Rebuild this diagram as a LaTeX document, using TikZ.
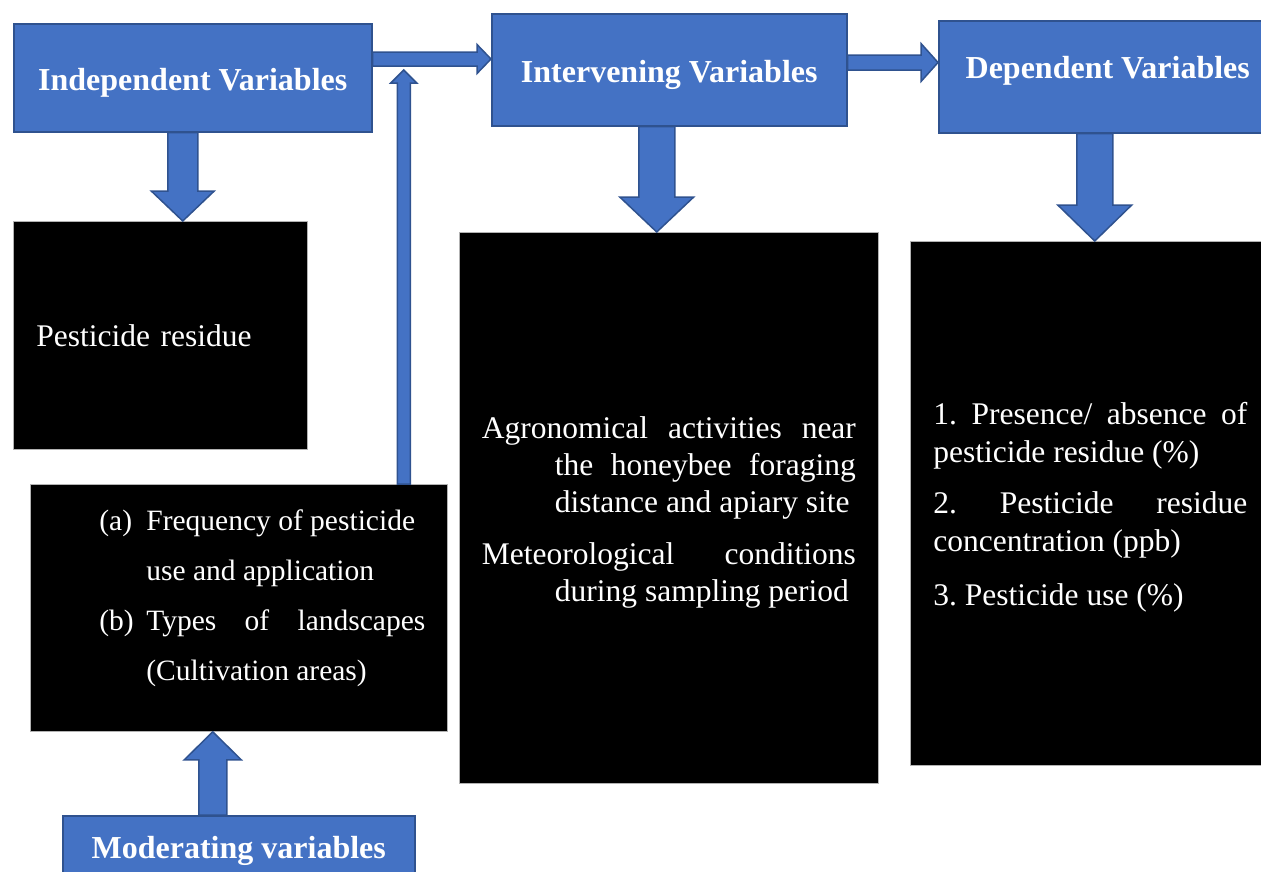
\documentclass[tikz,border=0pt]{standalone}
\usepackage{fontspec}
\setmainfont{Liberation Serif}
\usetikzlibrary{calc,positioning}
\definecolor{boxblue}{HTML}{4472C4}
\definecolor{edgeblue}{HTML}{2F528F}
\tikzset{
  titlebox/.style={draw=edgeblue,line width=1.5pt,fill=boxblue,text=white,inner sep=0pt,anchor=north west,
    font=\fontsize{32}{38}\selectfont\bfseries,text height=26pt,text depth=0pt},
  darkbox/.style={draw=gray!60,line width=0.8pt,fill=black,text=white,inner sep=0pt,anchor=north west,
    align=left,font=\fontsize{31.5}{37}\selectfont\frenchspacing},
  blockarr/.style={draw=edgeblue,line width=1.5pt,fill=boxblue,line join=miter}
}
% block arrow: from, to, half shaft, half head, head length
\newcommand{\blockarrow}[5]{%
  \coordinate (ba-h) at ($(#2)!#5!(#1)$);
  \draw[blockarr] ($(#1)!#3!90:(#2)$) -- ($(ba-h)!#3!90:(#2)$) -- ($(ba-h)!#4!90:(#2)$) -- (#2)
    -- ($(ba-h)!#4!-90:(#2)$) -- ($(ba-h)!#3!-90:(#2)$) -- ($(#1)!#3!-90:(#2)$) -- cycle;}
\begin{document}
\begin{tikzpicture}[x=1pt,y=-1pt]
        \useasboundingbox (0,0) rectangle (1261,871);
        %blue headings
        \node[titlebox,minimum width=358pt,minimum height=108pt] (indep) at (13,23) {Independent Variables};
        \node[titlebox,minimum width=355pt,minimum height=112pt] (interv) at (491,13) {Intervening Variables};
        \node[titlebox,minimum width=338pt,minimum height=112pt,text height=22pt,text depth=18pt] (dep) at (938,20) {Dependent Variables};
        \node[titlebox,minimum width=352pt,minimum height=70pt,text height=22pt,text depth=6pt] (modvar) at (62,815) {Moderating variables};
        %black boxes
        \node[darkbox,minimum width=294pt,minimum height=228pt,text width=248pt] (resid) at (13,221) {Pesticide residue};
        \node[darkbox,minimum width=417pt,minimum height=247pt,font=\fontsize{29.5}{50}\selectfont] (factors) at (30,484)
          {\hspace*{47pt}\makebox[47pt][l]{(a)}Frequency of pesticide\\
           \hspace*{94pt}use and application\\
           \hspace*{47pt}\makebox[47pt][l]{(b)}\makebox[279pt]{Types\hfill of\hfill landscapes}\\
           \hspace*{94pt}(Cultivation areas)\rule[-26pt]{0pt}{26pt}};
        \node[darkbox,minimum width=419pt,minimum height=551pt] (agro) at (459,232)
          {\rule{0pt}{30pt}\makebox[374pt]{Agronomical\hfill activities\hfill near}\\
           \hspace*{73pt}\makebox[301pt]{the\hfill honeybee\hfill foraging}\\
           \hspace*{73pt}distance and apiary site\\[15pt]
           \makebox[374pt]{Meteorological\hfill conditions}\\
           \hspace*{73pt}during sampling period};
        \node[darkbox,minimum width=360pt,minimum height=524pt,font=\fontsize{31.5}{38}\selectfont\frenchspacing] (outcome) at (910,241)
          {\rule{0pt}{30pt}\makebox[314pt]{1.\hfill Presence/\hfill absence\hfill of}\\
           pesticide residue (\%)\\[13pt]
           \makebox[314pt]{2.\hfill Pesticide\hfill residue}\\
           concentration (ppb)\\[16pt]
           3. Pesticide use (\%)};
        %arrow ends
        \coordinate (a1s) at ($(indep.north east)+(0,36)$);
        \coordinate (a1e) at (a1s -| interv.west);
        \coordinate (a2s) at ($(interv.north east)+(0,49.5)$);
        \coordinate (a2e) at (a2s -| dep.west);
        \coordinate (a3s) at ($(indep.south)+(-10,0)$);
        \coordinate (a3e) at (a3s |- resid.north);
        \coordinate (a4s) at ($(interv.south)+(-12.5,0)$);
        \coordinate (a4e) at (a4s |- agro.north);
        \coordinate (a5s) at ($(dep.south)+(-13,0)$);
        \coordinate (a5e) at (a5s |- outcome.north);
        \coordinate (a6s) at ($(modvar.north)+(-26,0)$);
        \coordinate (a6e) at (a6s |- factors.south);
        \coordinate (a7s) at ($(factors.north east)+(-44,0)$);
        \coordinate (link) at ($(a7s |- indep.north)+(0,47)$);
        %block arrows
        \blockarrow{a1s}{a1e}{7pt}{14.5pt}{14pt}
        \blockarrow{a2s}{a2e}{7.5pt}{19pt}{17pt}
        \blockarrow{a3s}{a3e}{15pt}{31.5pt}{30pt}
        \blockarrow{a4s}{a4e}{18pt}{37pt}{35pt}
        \blockarrow{a5s}{a5e}{18pt}{37pt}{36pt}
        \blockarrow{a6s}{a6e}{14pt}{28.5pt}{28pt}
        \blockarrow{a7s}{link}{6.5pt}{13pt}{13pt}
\end{tikzpicture}
\end{document}
